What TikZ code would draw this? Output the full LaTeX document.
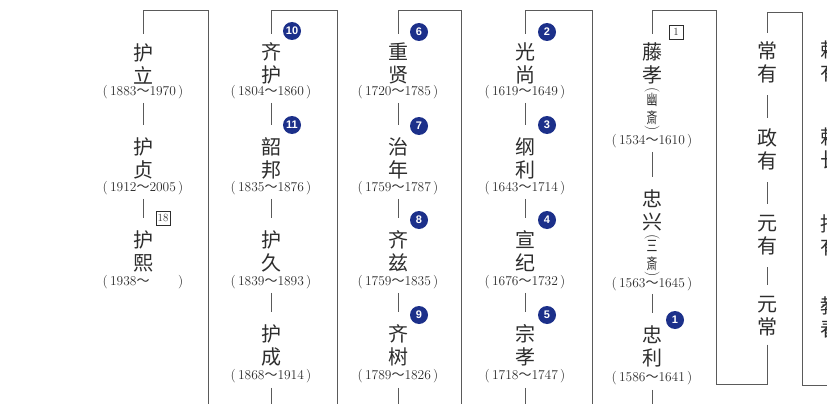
\documentclass[tikz,border=0pt]{standalone}
\usepackage{fontspec}
\usepackage{graphicx}
\newfontfamily\cjk{Noto Sans CJK SC}
\newfontfamily\numsans{Liberation Sans}
\definecolor{navy}{RGB}{28,48,138}
\definecolor{ink}{RGB}{45,45,45}
\definecolor{ln}{RGB}{90,90,90}
\newcommand\yr[2]{(\,#1{\cjk\fontsize{13}{13}\selectfont ～}#2\,)}
\newcommand\nar[1]{\scalebox{0.72}[1]{#1}}
\tikzset{
  nm/.style={font=\cjk\fontsize{20}{23}\selectfont, align=center, inner sep=0pt, text=ink},
  sm/.style={font=\cjk\fontsize{15}{18}\selectfont, align=center, inner sep=0pt, text=ink},
  par/.style={font=\fontsize{15}{15}\selectfont, inner sep=0pt, text=ink, rotate=-90},
  dt/.style={font=\fontsize{13.5}{14}\selectfont, inner sep=0pt, text=ink},
  circnum/.style={circle, fill=navy, text=white, font=\numsans\bfseries\fontsize{11}{11}\selectfont, inner sep=0pt, minimum size=18pt},
  boxnum/.style={draw=ink, line width=0.6pt, font=\fontsize{11}{11}\selectfont, inner sep=1pt, minimum height=14pt, minimum width=14pt, text=ink},
  conn/.style={draw=ln, line width=0.9pt, shorten <=4pt, shorten >=12.5pt},
  brk/.style={draw=ln, line width=1pt},
}
\begin{document}
\begin{tikzpicture}[x=1pt,y=-1pt]
\useasboundingbox (0,0) rectangle (827,404);
\fill[white] (0,0) rectangle (827,404);
\clip (0,0) rectangle (827,404);

% ---------- column 1 ----------
\node[nm] (a1) at (143,63.5) {护\\立};
\node[dt] (a1d) at (143,92) {\yr{1883}{1970}};
\node[nm] (a2) at (143,158.5) {护\\贞};
\node[dt] (a2d) at (143,188) {\yr{1912}{2005}};
\node[boxnum] (k18) at (163,218) {18};
\node[nm] (a3) at (143,251.5) {护\\熙};
\node[dt] (a3d) at (143,282) {\yr{1938}{\phantom{0000}}};
\draw[conn] (a1d.south) -- (a2.north);
\draw[conn] (a2d.south) -- (a3.north);

% ---------- column 2 ----------
\node[circnum] (n10) at (292,31) {10};
\node[nm] (b1) at (271,63.5) {齐\\护};
\node[dt] (b1d) at (271,92) {\yr{1804}{1860}};
\node[circnum] (n11) at (292,125) {11};
\node[nm] (b2) at (271,158.5) {韶\\邦};
\node[dt] (b2d) at (271,188) {\yr{1835}{1876}};
\node[nm] (b3) at (271,251.5) {护\\久};
\node[dt] (b3d) at (271,282) {\yr{1839}{1893}};
\node[nm] (b4) at (271,345.5) {护\\成};
\node[dt] (b4d) at (271,376) {\yr{1868}{1914}};
\draw[conn] (b1d.south) -- (b2.north);
\draw[conn] (b2d.south) -- (b3.north);
\draw[conn] (b3d.south) -- (b4.north);
\draw[brk] ([yshift=-5pt]b4d.south) -- (b4d.south |- 0,425) -- (208,425) -- (208,11) -- (a1.north |- 0,11) -- ([yshift=9pt]a1.north);

% ---------- column 3 ----------
\node[circnum] (n6) at (419,32) {6};
\node[nm] (c1) at (398,63.5) {重\\贤};
\node[dt] (c1d) at (398,92) {\yr{1720}{1785}};
\node[circnum] (n7) at (419,126) {7};
\node[nm] (c2) at (398,158.5) {治\\年};
\node[dt] (c2d) at (398,188) {\yr{1759}{1787}};
\node[circnum] (n8) at (419,220) {8};
\node[nm] (c3) at (398,251.5) {齐\\兹};
\node[dt] (c3d) at (398,282) {\yr{1759}{1835}};
\node[circnum] (n9) at (419,315) {9};
\node[nm] (c4) at (398,345.5) {齐\\树};
\node[dt] (c4d) at (398,376) {\yr{1789}{1826}};
\draw[conn] (c1d.south) -- (c2.north);
\draw[conn] (c2d.south) -- (c3.north);
\draw[conn] (c3d.south) -- (c4.north);
\draw[brk] ([yshift=-5pt]c4d.south) -- (c4d.south |- 0,425) -- (337,425) -- (337,11) -- (b1.north |- 0,11) -- ([yshift=9pt]b1.north);

% ---------- column 4 ----------
\node[circnum] (n2) at (547,32) {2};
\node[nm] (d1) at (525,63.5) {光\\尚};
\node[dt] (d1d) at (525,92) {\yr{1619}{1649}};
\node[circnum] (n3) at (547,125) {3};
\node[nm] (d2) at (525,158.5) {纲\\利};
\node[dt] (d2d) at (525,188) {\yr{1643}{1714}};
\node[circnum] (n4) at (547,220) {4};
\node[nm] (d3) at (525,251.5) {宣\\纪};
\node[dt] (d3d) at (525,282) {\yr{1676}{1732}};
\node[circnum] (n5) at (547,315) {5};
\node[nm] (d4) at (525,345.5) {宗\\孝};
\node[dt] (d4d) at (525,376) {\yr{1718}{1747}};
\draw[conn] (d1d.south) -- (d2.north);
\draw[conn] (d2d.south) -- (d3.north);
\draw[conn] (d3d.south) -- (d4.north);
\draw[brk] ([yshift=-5pt]d4d.south) -- (d4d.south |- 0,425) -- (461,425) -- (461,11) -- (c1.north |- 0,11) -- ([yshift=9pt]c1.north);

% ---------- column 5 ----------
\node[boxnum] (k1) at (676,32) {1};
\node[nm] (e1) at (652,63.5) {藤\\孝};
\node[par] (e1o) at (652,90) {(};
\node[sm] (e1s) at (652,109) {\nar{幽}\\\nar{斎}};
\node[par] (e1c) at (652,128) {)};
\node[dt] (e1d) at (652,141) {\yr{1534}{1610}};
\node[nm] (e2) at (652,210) {忠\\兴};
\node[par] (e2o) at (652,237) {(};
\node[sm] (e2s) at (652,256) {\nar{三}\\\nar{斎}};
\node[par] (e2c) at (652,274.5) {)};
\node[dt] (e2d) at (652,284.5) {\yr{1563}{1645}};
\node[circnum] (n1) at (675,320) {1};
\node[nm] (e3) at (652,346.5) {忠\\利};
\node[dt] (e3d) at (652,378) {\yr{1586}{1641}};
\draw[conn] (e1d.south) -- (e2.north);
\draw[conn, shorten <=2.5pt, shorten >=13pt] (e2d.south) -- (e3.north);
\draw[brk] ([yshift=-5pt]e3d.south) -- (e3d.south |- 0,425) -- (592,425) -- (592,11) -- (d1.north |- 0,11) -- ([yshift=9pt]d1.north);

% ---------- column 6 ----------
\node[nm] (g1) at (767,62.5) {常\\有};
\node[nm] (g2) at (767,149.5) {政\\有};
\node[nm] (g3) at (767,235) {元\\有};
\node[nm] (g4) at (767,316.5) {元\\常};
\draw[conn, shorten <=12pt, shorten >=11pt] (g1.south) -- (g2.north);
\draw[conn, shorten <=12pt, shorten >=11pt] (g2.south) -- (g3.north);
\draw[conn, shorten <=12pt, shorten >=11pt] (g3.south) -- (g4.north);
\draw[brk] ([yshift=-8pt]g4.south) -- (g4.south |- 0,384) -- (716,384) -- (716,11) -- (e1.north |- 0,11) -- ([yshift=9pt]e1.north);

% ---------- column 7 (cut off at the edge) ----------
\node[nm] (h1) at (830,61) {赖\\有};
\node[nm] (h2) at (830,148.5) {赖\\长};
\node[nm] (h3) at (830,235.5) {持\\有};
\node[nm] (h4) at (830,317.5) {教\\春};
\coordinate (offR) at (845,385);
\draw[brk] ([yshift=9pt]g1.north) -- (g1.north |- 0,13) -- (802,13) -- (802,385) -- (offR);
\end{tikzpicture}
\end{document}
